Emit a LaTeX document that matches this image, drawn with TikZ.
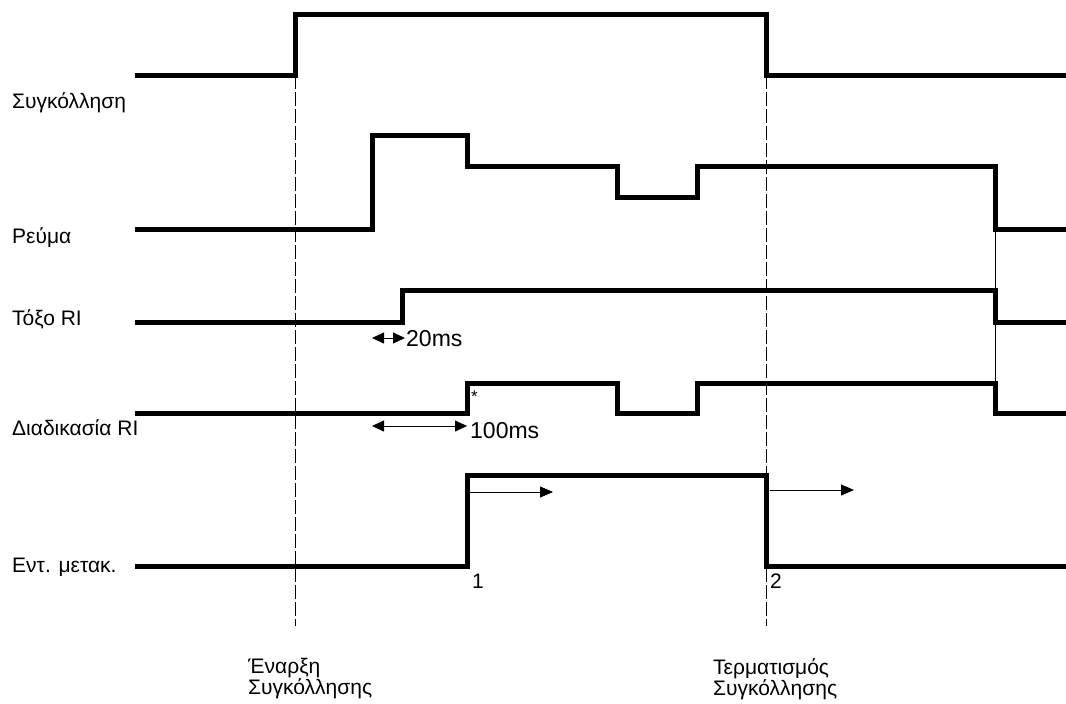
\documentclass[tikz,border=0pt]{standalone}
\usepackage{fontspec}
\setmainfont{Liberation Sans}
\usetikzlibrary{arrows.meta,positioning}
\tikzset{
  sig/.style={line width=5pt, line join=miter},
  guide/.style={line width=0.8pt, dash pattern=on 14pt off 3pt},
  lbl/.style={anchor=base west, inner sep=0pt, font=\fontsize{21}{24}\selectfont},
  tlbl/.style={lbl, font=\fontsize{23}{26}\selectfont},
  dim/.style={line width=0.8pt, {Triangle[length=12pt,width=11pt]}-{Triangle[length=12pt,width=11pt]}},
  move/.style={line width=0.8pt, -{Triangle[length=13pt,width=11pt]}},
}

\begin{document}
\begin{tikzpicture}[x=1pt, y=-1pt]
\useasboundingbox (0,0) rectangle (1066,704);
% start / end of welding markers
\draw[guide] (295,75) -- (295,626);
\draw[guide] (766,75) -- (766,626);
\draw[line width=0.8pt] (995,229) -- (995,383);
% signal traces
\draw[sig] (135,75) -- (295,75) -- (295,14) -- (766,14) -- (766,75) -- (1066,75);
\draw[sig] (135,229) -- (372,229) -- (372,135) -- (467,135) -- (467,166) -- (617,166)
  -- (617,197) -- (697,197) -- (697,166) -- (995,166) -- (995,229) -- (1066,229);
\draw[sig] (135,322) -- (402,322) -- (402,290) -- (995,290) -- (995,322) -- (1066,322);
\draw[sig] (135,413) -- (467,413) -- (467,383) -- (617,383) -- (617,413) -- (697,413)
  -- (697,383) -- (995,383) -- (995,413) -- (1066,413);
\draw[sig] (135,566) -- (467,566) -- (467,475) -- (766,475) -- (766,566) -- (1066,566);
% signal names
\node[lbl] (weld) at (12,108) {Συγκόλληση};
\node[lbl] (curr) at (12,243) {Ρεύμα};
\node[lbl] (arc)  at (12,325) {Τόξο RI};
\node[lbl] (proc) at (12,435) {Διαδικασία RI};
\node[lbl] (feed) at (12,572) {Εντ. μετακ.};
% delays
\coordinate (d20a) at (372,338);
\coordinate (d20b) at (405,338);
\draw[dim] (d20a) -- (d20b);
\node[tlbl] (t20) at (406,346) {20ms};
\coordinate (d100a) at (372,426);
\coordinate (d100b) at (467,426);
\draw[dim] (d100a) -- (d100b);
\node[tlbl] (t100) at (470,438) {100ms};
\node[lbl, font=\fontsize{17}{20}\selectfont] (star) at (471,402) {*};
% feed direction
\coordinate (m1a) at (470,492);
\coordinate (m1b) at (553,492);
\draw[move] (m1a) -- (m1b);
\coordinate (m2a) at (770,490);
\coordinate (m2b) at (854,490);
\draw[move] (m2a) -- (m2b);
\node[lbl] (one) at (472,588) {1};
\node[lbl] (two) at (770,588) {2};
% bottom labels
\node[lbl] (start1) at (248,673) {Έναρξη};
\node[lbl] (start2) at (248,694) {Συγκόλλησης};
\node[lbl] (stop1)  at (713,674) {Τερματισμός};
\node[lbl] (stop2)  at (713,695) {Συγκόλλησης};
\end{tikzpicture}
\end{document}
